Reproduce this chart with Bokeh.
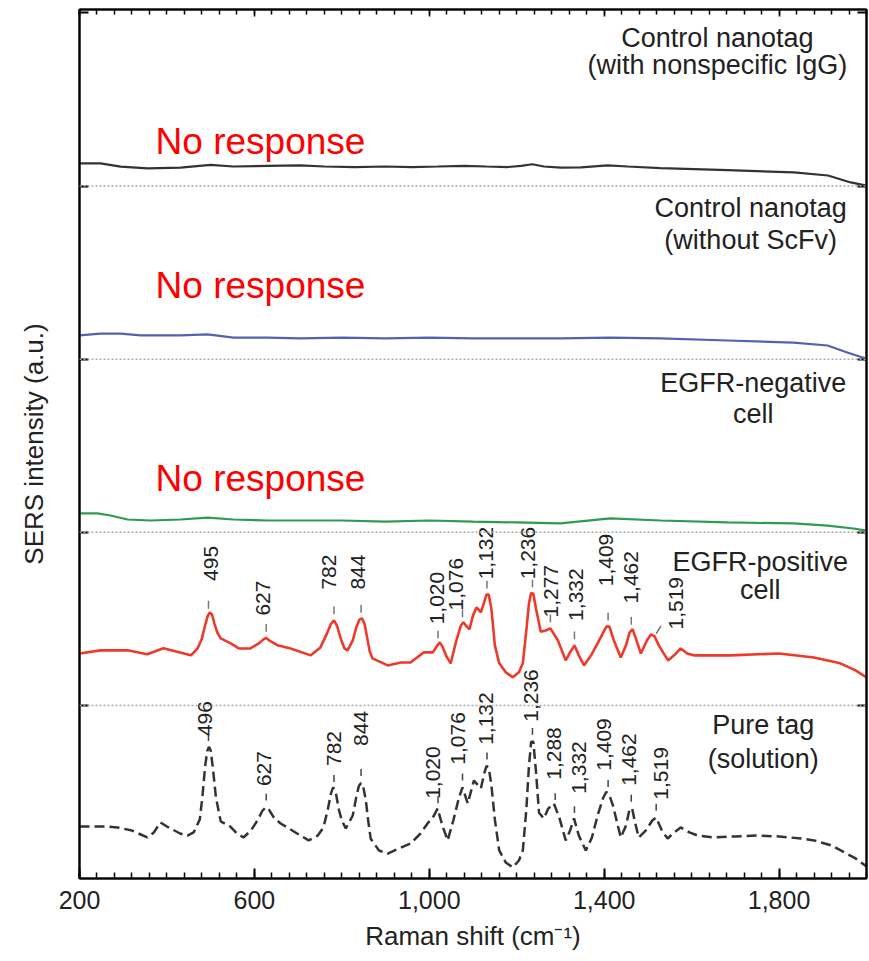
import numpy as np
from bokeh.plotting import figure
from bokeh.models import Range1d, LinearAxis, FixedTicker, Span, NumeralTickFormatter
from bokeh.core.properties import value
from bokeh.embed import file_html
from bokeh.resources import INLINE

# ---------------- data (relative SERS intensity, a.u.) ----------------
pure_x = [200, 225, 260, 287, 320, 355, 370, 385, 400, 430, 447, 461, 475, 481, 487, 492, 496, 500, 505,
          512, 523, 545, 560, 575, 592, 607, 618, 626, 634, 645, 660, 694, 724, 745, 758, 768, 775, 780,
          786, 793, 800, 809, 825, 833, 839, 844, 849, 855, 860, 866, 885, 905, 930, 957, 980, 996,
          1008, 1019, 1030, 1042, 1055, 1068, 1076, 1088, 1102, 1118, 1126, 1131, 1136, 1142, 1150,
          1160, 1175, 1191, 1205, 1214, 1222, 1228, 1233, 1238, 1244, 1251, 1262, 1272, 1285, 1298,
          1312, 1322, 1331, 1342, 1358, 1372, 1385, 1398, 1405, 1412, 1420, 1438, 1450, 1458, 1464,
          1470, 1479, 1495, 1510, 1519, 1532, 1545, 1560, 1575, 1595, 1614, 1650, 1700, 1750, 1800,
          1850, 1880, 1920, 1950, 1975, 2000]
pure_y = [0.300, 0.300, 0.300, 0.295, 0.277, 0.237, 0.266, 0.324, 0.300, 0.260, 0.248, 0.266, 0.340,
          0.470, 0.640, 0.735, 0.760, 0.740, 0.640, 0.470, 0.330, 0.300, 0.260, 0.237, 0.277, 0.335,
          0.390, 0.412, 0.395, 0.350, 0.318, 0.266, 0.220, 0.248, 0.295, 0.400, 0.490, 0.526, 0.500,
          0.400, 0.335, 0.289, 0.364, 0.470, 0.535, 0.552, 0.530, 0.450, 0.340, 0.230, 0.162, 0.144,
          0.173, 0.202, 0.260, 0.318, 0.352, 0.404, 0.306, 0.220, 0.335, 0.468, 0.526, 0.433, 0.566,
          0.520, 0.610, 0.650, 0.640, 0.540, 0.340, 0.162, 0.092, 0.064, 0.104, 0.162, 0.400, 0.650,
          0.790, 0.790, 0.620, 0.380, 0.347, 0.404, 0.433, 0.347, 0.220, 0.277, 0.347, 0.248, 0.162,
          0.237, 0.364, 0.468, 0.500, 0.480, 0.422, 0.237, 0.306, 0.400, 0.405, 0.330, 0.237, 0.277,
          0.335, 0.352, 0.277, 0.231, 0.266, 0.295, 0.266, 0.248, 0.237, 0.243, 0.248, 0.243, 0.231,
          0.220, 0.191, 0.150, 0.116, 0.069]

pos_x = [200, 248, 310, 355, 392, 430, 455, 470, 480, 487, 493, 498, 503, 509, 515, 523, 546, 564, 591,
         610, 620, 627, 634, 653, 683, 729, 751, 765, 775, 782, 789, 797, 806, 813, 825, 833, 840, 846,
         852, 858, 864, 870, 905, 935, 957, 987, 1008, 1018, 1024, 1030, 1040, 1049, 1062, 1072,
         1078, 1084, 1092, 1100, 1108, 1118, 1126, 1131, 1136, 1142, 1150, 1160, 1175, 1191, 1205,
         1214, 1222, 1228, 1233, 1238, 1244, 1255, 1266, 1277, 1294, 1312, 1322, 1332, 1342, 1354,
         1370, 1385, 1398, 1405, 1412, 1422, 1438, 1450, 1458, 1465, 1472, 1484, 1498, 1507, 1515,
         1525, 1546, 1560, 1575, 1590, 1605, 1690, 1800, 1880, 1940, 1975, 2000]
pos_y = [0.300, 0.318, 0.318, 0.295, 0.330, 0.306, 0.289, 0.329, 0.387, 0.460, 0.515, 0.537, 0.525,
         0.470, 0.422, 0.387, 0.358, 0.329, 0.329, 0.358, 0.380, 0.390, 0.375, 0.347, 0.329, 0.289,
         0.335, 0.410, 0.470, 0.491, 0.460, 0.390, 0.329, 0.318, 0.376, 0.450, 0.495, 0.503, 0.470,
         0.390, 0.310, 0.272, 0.231, 0.248, 0.248, 0.306, 0.306, 0.345, 0.364, 0.340, 0.280, 0.243,
         0.376, 0.460, 0.480, 0.460, 0.440, 0.520, 0.566, 0.537, 0.600, 0.640, 0.640, 0.560, 0.347,
         0.243, 0.191, 0.162, 0.191, 0.243, 0.433, 0.590, 0.650, 0.645, 0.560, 0.425, 0.433, 0.445,
         0.376, 0.260, 0.306, 0.347, 0.289, 0.231, 0.289, 0.358, 0.422, 0.455, 0.455, 0.376, 0.277,
         0.347, 0.420, 0.440, 0.390, 0.300, 0.376, 0.410, 0.400, 0.347, 0.260, 0.289, 0.329, 0.300,
         0.289, 0.289, 0.300, 0.277, 0.243, 0.202, 0.162]

neg_x = [200, 241, 271, 310, 362, 431, 493, 552, 630, 705, 800, 900, 1000, 1100, 1200, 1300, 1414,
         1529, 1682, 1833, 1911, 1970, 2000]
neg_y = [0.109, 0.109, 0.097, 0.074, 0.068, 0.074, 0.085, 0.074, 0.068, 0.068, 0.068, 0.062, 0.068,
         0.062, 0.057, 0.051, 0.080, 0.068, 0.057, 0.051, 0.039, 0.022, 0.010]

noscfv_x = [200, 248, 294, 340, 431, 493, 552, 630, 705, 800, 900, 1000, 1100, 1200, 1300, 1414,
            1529, 1682, 1833, 1911, 1956, 2000]
noscfv_y = [0.137, 0.148, 0.148, 0.137, 0.137, 0.143, 0.125, 0.125, 0.120, 0.125, 0.120, 0.125,
            0.120, 0.120, 0.120, 0.125, 0.120, 0.108, 0.096, 0.079, 0.039, 0.002]

igg_x = [200, 248, 294, 356, 431, 500, 552, 630, 705, 760, 830, 900, 960, 1020, 1080, 1130, 1180,
         1210, 1236, 1262, 1301, 1347, 1408, 1454, 1529, 1683, 1834, 1912, 1964, 2000]
igg_y = [0.131, 0.131, 0.112, 0.102, 0.106, 0.122, 0.113, 0.117, 0.120, 0.113, 0.110, 0.113, 0.110,
         0.113, 0.117, 0.113, 0.110, 0.117, 0.126, 0.113, 0.106, 0.108, 0.120, 0.113, 0.104, 0.092,
         0.079, 0.061, 0.021, 0.003]

pos_peaks = [495, 627, 782, 844, 1020, 1076, 1132, 1236, 1277, 1332, 1409, 1462, 1519]
pos_labels = ["495", "627", "782", "844", "1,020", "1,076", "1,132", "1,236", "1,277", "1,332",
              "1,409", "1,462", "1,519"]
pure_peaks = [495, 627, 782, 844, 1020, 1076, 1132, 1236, 1288, 1332, 1409, 1462, 1519]
pure_labels = ["496", "627", "782", "844", "1,020", "1,076", "1,132", "1,236", "1,288", "1,332",
               "1,409", "1,462", "1,519"]

panel_names = [["Pure tag", "(solution)"],
               ["EGFR-positive", "cell"],
               ["EGFR-negative", "cell"],
               ["Control nanotag", "(without ScFv)"],
               ["Control nanotag", "(with nonspecific IgG)"]]
no_response = "No response"
x_ticks = [200, 600, 1000, 1400, 1800]

# ---------------- layout parameters ----------------
offsets = [0, 1, 2, 3, 4]
pos_label_x = [500, 619, 770, 838, 1017, 1060, 1129, 1225, 1278, 1335, 1404, 1461, 1564]
pos_label_y = [0.82, 0.62, 0.77, 0.77, 0.62, 0.70, 0.88, 0.88, 0.66, 0.64, 0.84, 0.74, 0.59]
pure_label_x = [486, 621, 781, 843, 1008, 1065, 1129, 1232, 1285, 1342, 1399, 1456, 1529]
pure_label_y = [0.924, 0.635, 0.751, 0.867, 0.612, 0.809, 0.924, 1.057, 0.722, 0.641, 0.774, 0.687, 0.607]
title_x = [1764, 1757, 1741, 1735, 1659]
title_y = [(0.884, 0.693), (0.826, 0.664), (0.860, 0.686), (0.871, 0.686), (0.858, 0.697)]
nr_x = 374
nr_y = [4.255, 3.426, 2.311]

FONT = "Liberation Sans"

p = figure(width=868, height=960, output_backend="svg", toolbar_location=None,
           x_range=Range1d(200, 2000), y_range=Range1d(0, 5.02),
           min_border_left=79, min_border_right=2, min_border_top=9, min_border_bottom=82)
p.background_fill_color = "white"
p.border_fill_color = "white"
p.grid.visible = False
p.outline_line_color = "#222222"
p.outline_line_width = 2

minor = list(range(200, 2001, 40))

xa = p.xaxis[0]
xa.ticker = FixedTicker(ticks=x_ticks, minor_ticks=minor)
xa.formatter = NumeralTickFormatter(format="0,0")
xa.major_tick_in = 10
xa.major_tick_out = 0
xa.minor_tick_in = 6
xa.minor_tick_out = 0
xa.axis_line_width = 2
xa.major_tick_line_width = 2
xa.minor_tick_line_width = 1.5
xa.major_label_text_font = FONT
xa.major_label_text_font_size = "25px"
xa.major_label_text_color = "#222222"
xa.major_label_standoff = 12
xa.axis_label = "Raman shift (cm\u207b\u00b9)"
xa.axis_label_text_font = FONT
xa.axis_label_text_font_size = "26px"
xa.axis_label_text_font_style = "normal"
xa.axis_label_text_color = "#222222"
xa.axis_label_standoff = 9

ya = p.yaxis[0]
ya.ticker = FixedTicker(ticks=[1, 2, 3, 4, 5], minor_ticks=[])
ya.major_label_text_font_size = "1px"
ya.major_label_text_color = None
ya.major_label_standoff = 0
ya.major_tick_in = 9
ya.major_tick_out = 0
ya.major_tick_line_width = 2
ya.axis_line_width = 2
ya.axis_label = "SERS intensity (a.u.)"
ya.axis_label_text_font = FONT
ya.axis_label_text_font_size = "26px"
ya.axis_label_text_font_style = "normal"
ya.axis_label_text_color = "#222222"
ya.axis_label_standoff = 31

top = LinearAxis(ticker=FixedTicker(ticks=x_ticks, minor_ticks=minor),
                 major_tick_in=7, major_tick_out=0, minor_tick_in=5, minor_tick_out=0,
                 major_label_text_font_size="1px", major_label_text_color=None,
                 major_label_standoff=0,
                 axis_line_width=2, major_tick_line_width=1.5, minor_tick_line_width=1.5)
p.add_layout(top, "above")
right = LinearAxis(ticker=FixedTicker(ticks=[1, 2, 3, 4, 5], minor_ticks=[]),
                   major_tick_in=9, major_tick_out=0,
                   major_label_text_font_size="1px", major_label_text_color=None,
                   major_label_standoff=0,
                   axis_line_width=2, major_tick_line_width=2)
p.add_layout(right, "right")

# dotted baselines
for off in offsets[1:]:
    p.add_layout(Span(location=off, dimension="width", line_color="#aaaaaa",
                      line_dash="2 2", line_width=1.5))

# spectra
p.line(pure_x, np.array(pure_y) + offsets[0], line_color="#333333", line_width=2.5, line_dash="10 5")
p.line(pos_x, np.array(pos_y) + offsets[1], line_color="#ee3a2a", line_width=2.6)
p.line(neg_x, np.array(neg_y) + offsets[2], line_color="#2e9a52", line_width=2.2)
p.line(noscfv_x, np.array(noscfv_y) + offsets[3], line_color="#5262b0", line_width=2.2)
p.line(igg_x, np.array(igg_y) + offsets[4], line_color="#333333", line_width=2.2)

# peak markers
pk_pos = np.interp(pos_peaks, pos_x, pos_y) + offsets[1]
x1 = list(pos_peaks)
x1[-1] = 1530
p.segment(x0=pos_peaks, y0=pk_pos + 0.035, x1=x1, y1=pk_pos + 0.08, line_color="#777777", line_width=1.5)
pk_pure = np.interp(pure_peaks, pure_x, pure_y) + offsets[0]
p.segment(x0=pure_peaks, y0=pk_pure + 0.04, x1=pure_peaks, y1=pk_pure + 0.08, line_color="#444444", line_width=1.5)

# peak labels
p.text(x=pos_label_x, y=np.array(pos_label_y) + offsets[1], text=pos_labels, angle=np.pi / 2,
       text_align="center", text_baseline="middle", text_font=value(FONT),
       text_font_size="21px", text_color="#222222")
p.text(x=pure_label_x, y=np.array(pure_label_y) + offsets[0], text=pure_labels, angle=np.pi / 2,
       text_align="center", text_baseline="middle", text_font=value(FONT),
       text_font_size="21px", text_color="#222222")

# panel titles
for i, lines in enumerate(panel_names):
    p.text(x=[title_x[i]] * 2, y=[title_y[i][0] + offsets[i], title_y[i][1] + offsets[i]], text=lines,
           text_align="center", text_baseline="middle", text_font=value(FONT),
           text_font_size="27px", text_color="#222222")

# no response
p.text(x=[nr_x] * 3, y=nr_y, text=[no_response] * 3, text_align="left",
       text_baseline="middle", text_font=value(FONT), text_font_size="37px",
       text_color="#ff0000")

open("out.html", "w").write(file_html(p, INLINE))
